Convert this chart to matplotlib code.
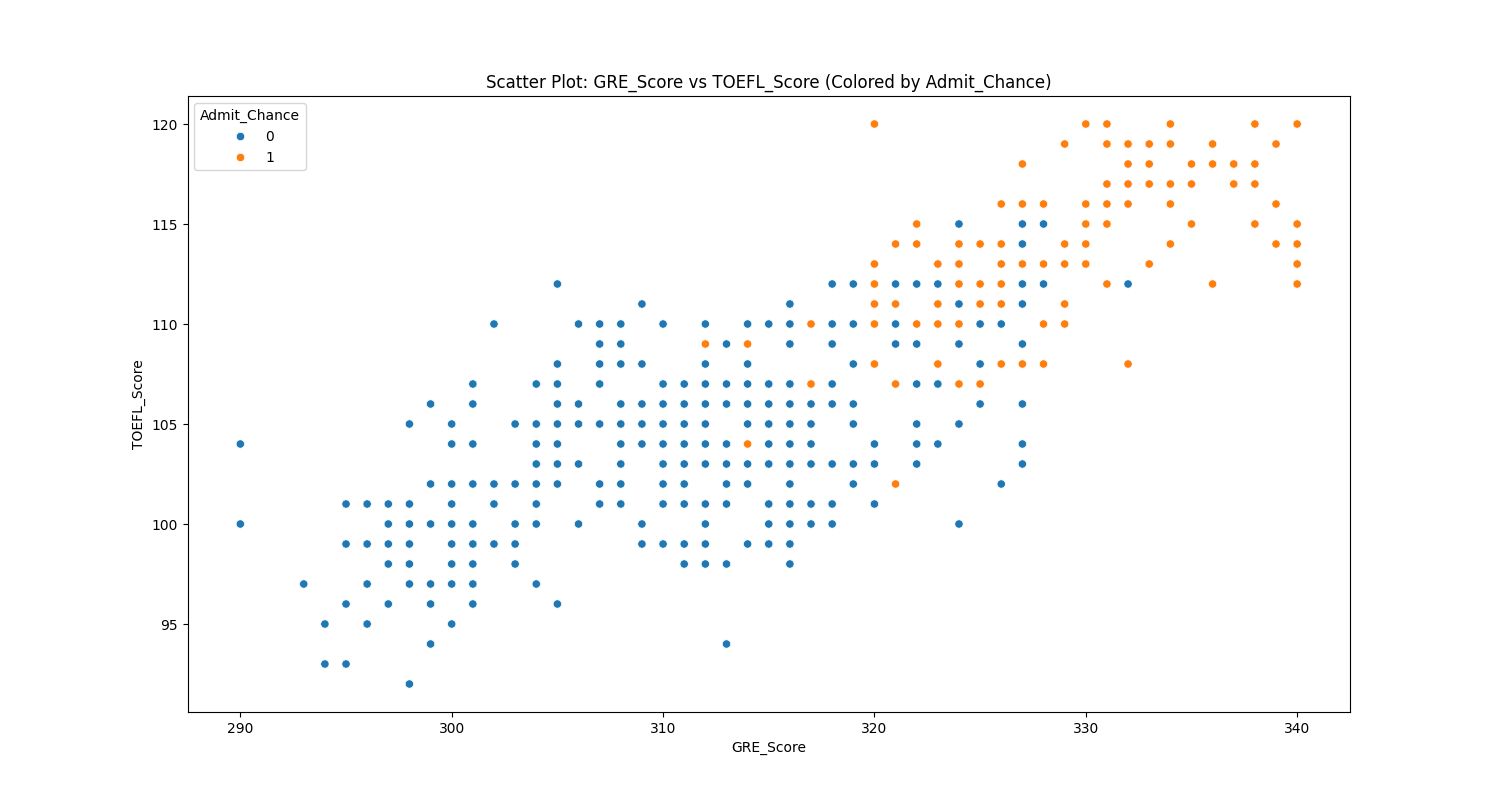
import pandas as pd
import seaborn as sns
import matplotlib
matplotlib.use("Agg")
import matplotlib.pyplot as plt

# Admit_Chance = 0 (GRE, TOEFL), grouped by GRE score
gre_0 = [290, 290,
         293,
         294, 294,
         295, 295, 295, 295,
         296, 296, 296, 296,
         297, 297, 297, 297, 297,
         298, 298, 298, 298, 298, 298, 298,
         299, 299, 299, 299, 299, 299,
         300, 300, 300, 300, 300, 300, 300, 300, 300,
         301, 301, 301, 301, 301, 301, 301, 301, 301,
         302, 302, 302, 302,
         303, 303, 303, 303, 303,
         304, 304, 304, 304, 304, 304, 304, 304,
         305, 305, 305, 305, 305, 305, 305, 305, 305,
         306, 306, 306, 306, 306,
         307, 307, 307, 307, 307, 307, 307,
         308, 308, 308, 308, 308, 308, 308, 308, 308,
         309, 309, 309, 309, 309, 309, 309,
         310, 310, 310, 310, 310, 310, 310, 310, 310,
         311, 311, 311, 311, 311, 311, 311, 311, 311,
         312, 312, 312, 312, 312, 312, 312, 312, 312, 312, 312,
         313, 313, 313, 313, 313, 313, 313, 313, 313,
         314, 314, 314, 314, 314, 314, 314, 314,
         315, 315, 315, 315, 315, 315, 315, 315, 315,
         316, 316, 316, 316, 316, 316, 316, 316, 316, 316, 316, 316, 316,
         317, 317, 317, 317, 317, 317,
         318, 318, 318, 318, 318, 318, 318, 318,
         319, 319, 319, 319, 319, 319, 319,
         320, 320, 320,
         321, 321, 321,
         322, 322, 322, 322, 322, 322,
         323, 323, 323,
         324, 324, 324, 324, 324,
         325, 325, 325,
         326, 326,
         327, 327, 327, 327, 327, 327, 327, 327,
         328, 328,
         332]
toefl_0 = [104, 100,
           97,
           95, 93,
           101, 99, 96, 93,
           101, 99, 97, 95,
           101, 100, 99, 98, 96,
           105, 101, 100, 99, 98, 97, 92,
           106, 102, 100, 97, 96, 94,
           105, 104, 102, 101, 100, 99, 98, 97, 95,
           107, 106, 104, 102, 100, 99, 98, 97, 96,
           110, 102, 101, 99,
           105, 102, 100, 99, 98,
           107, 105, 104, 103, 102, 101, 100, 97,
           112, 108, 107, 106, 105, 104, 103, 102, 96,
           110, 106, 105, 103, 100,
           110, 109, 108, 107, 105, 102, 101,
           110, 109, 108, 106, 105, 104, 103, 102, 101,
           111, 108, 106, 105, 104, 100, 99,
           110, 107, 106, 105, 104, 103, 102, 101, 99,
           107, 106, 105, 104, 103, 102, 101, 99, 98,
           110, 108, 107, 106, 105, 104, 103, 101, 100, 99, 98,
           109, 107, 106, 104, 103, 102, 101, 98, 94,
           110, 108, 107, 106, 105, 103, 102, 99,
           110, 107, 106, 105, 104, 103, 101, 100, 99,
           111, 110, 109, 107, 106, 105, 104, 103, 102, 101, 100, 99, 98,
           106, 105, 104, 103, 101, 100,
           112, 110, 109, 107, 106, 103, 101, 100,
           112, 110, 108, 106, 105, 103, 102,
           104, 103, 101,
           112, 110, 109,
           112, 109, 107, 105, 104, 103,
           112, 107, 104,
           115, 111, 109, 105, 100,
           110, 108, 106,
           110, 102,
           115, 114, 112, 111, 109, 106, 104, 103,
           115, 112,
           112]

# Admit_Chance = 1
gre_1 = [312,
         314, 314,
         317, 317,
         320, 320, 320, 320, 320, 320,
         321, 321, 321, 321,
         322, 322, 322,
         323, 323, 323, 323,
         324, 324, 324, 324, 324,
         325, 325, 325, 325,
         326, 326, 326, 326, 326, 326,
         327, 327, 327, 327,
         328, 328, 328, 328,
         329, 329, 329, 329, 329,
         330, 330, 330, 330, 330,
         331, 331, 331, 331, 331, 331,
         332, 332, 332, 332, 332,
         333, 333, 333, 333,
         334, 334, 334, 334, 334,
         335, 335, 335,
         336, 336, 336,
         337, 337,
         338, 338, 338, 338,
         339, 339, 339,
         340, 340, 340, 340, 340]
toefl_1 = [109,
           109, 104,
           110, 107,
           120, 113, 112, 111, 110, 108,
           114, 111, 107, 102,
           115, 114, 110,
           113, 111, 110, 108,
           114, 113, 112, 110, 107,
           114, 112, 111, 107,
           116, 114, 113, 112, 111, 108,
           118, 116, 113, 108,
           116, 113, 110, 108,
           119, 114, 113, 111, 110,
           120, 116, 115, 114, 113,
           120, 119, 117, 116, 115, 112,
           119, 118, 117, 116, 108,
           119, 118, 117, 113,
           120, 119, 117, 116, 114,
           118, 117, 115,
           119, 118, 112,
           118, 117,
           120, 118, 117, 115,
           119, 116, 114,
           120, 115, 114, 113, 112]

df = pd.DataFrame({
    "GRE_Score": gre_0 + gre_1,
    "TOEFL_Score": toefl_0 + toefl_1,
    "Admit_Chance": [0] * len(gre_0) + [1] * len(gre_1),
})

plt.figure(figsize=(15, 8))
sns.scatterplot(data=df, x="GRE_Score", y="TOEFL_Score", hue="Admit_Chance")
plt.title("Scatter Plot: GRE_Score vs TOEFL_Score (Colored by Admit_Chance)")
plt.savefig("out.png", dpi=100)
